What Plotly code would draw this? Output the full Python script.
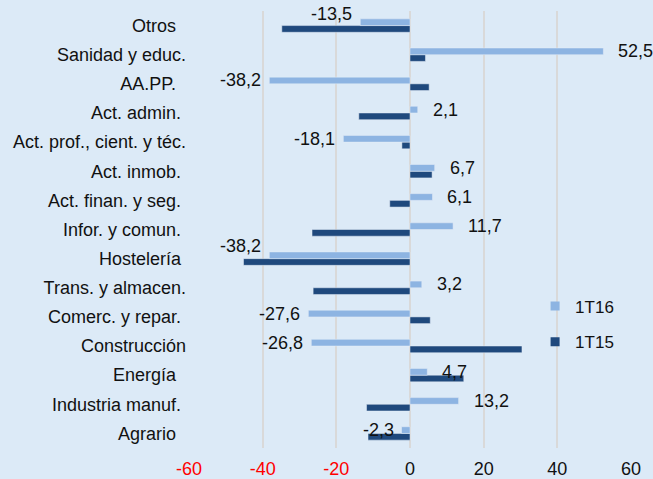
import plotly.graph_objects as go

# sectores, de arriba a abajo como en el grafico
sectores = ["Otros", "Sanidad y educ.", "AA.PP.", "Act. admin.",
            "Act. prof., cient. y téc.", "Act. inmob.", "Act. finan. y seg.",
            "Infor. y comun.", "Hostelería", "Trans. y almacen.",
            "Comerc. y repar.", "Construcción", "Energía",
            "Industria manuf.", "Agrario"]

t16 = [-13.5, 52.5, -38.2, 2.1, -18.1, 6.7, 6.1, 11.7, -38.2, 3.2,
       -27.6, -26.8, 4.7, 13.2, -2.3]
t15 = [-34.8, 4.2, 5.2, -13.9, -2.2, 6.0, -5.5, -26.6, -45.2, -26.3,
       5.5, 30.4, 14.6, -11.8, -11.4]

ticks_x = [-60, -40, -20, 0, 20, 40, 60]
ticks_x_txt = ["-60", "-40", "-20", "0", "20", "40", "60"]

# espacios al final de algunas etiquetas (como en el original)
pad = {"Otros": 2, "AA.PP.": 2, "Act. admin.": 1, "Act. inmob.": 1,
       "Act. finan. y seg.": 1, "Infor. y comun.": 1, "Hostelería": 1,
       "Comerc. y repar.": 1, "Energía": 2, "Industria manuf.": 1,
       "Agrario": 2}
etiquetas = [s + "\u00a0" * pad.get(s, 0) for s in sectores]

# etiquetas movidas a mano en el original
subir = {"Otros": 8, "Hostelería": 9}

CLARO = "#8DB4E2"
OSCURO = "#1F497D"
FONDO = "#DCEAF7"
FUENTE = "Liberation Sans, Arial, sans-serif"

fig = go.Figure()
fig.add_trace(go.Bar(y=sectores, x=t15, orientation="h", name="1T15",
                     marker_color=OSCURO, showlegend=False))
fig.add_trace(go.Bar(y=sectores, x=t16, orientation="h", name="1T16",
                     marker_color=CLARO, showlegend=False))

# entradas de leyenda con cuadrado pequeno
fig.add_trace(go.Scatter(x=[None], y=[None], mode="markers", name="1T16",
                         legendgroup="a",
                         marker=dict(symbol="square", size=9, color=CLARO)))
fig.add_trace(go.Scatter(x=[None], y=[None], mode="markers", name="1T15",
                         legendgroup="b",
                         marker=dict(symbol="square", size=9, color=OSCURO)))

for s, v in zip(sectores, t16):
    txt = f"{v:.1f}".replace(".", ",")
    fig.add_annotation(x=v, y=s, text=txt, showarrow=False,
                       xanchor="left" if v > 0 else "right",
                       xshift=13 if v > 0 else -6,
                       yshift=3.4 + subir.get(s, 0),
                       font=dict(size=18, color="#111111", family=FUENTE))

fig.update_layout(
    width=653, height=479,
    margin=dict(l=189, r=22, t=11, b=31),
    paper_bgcolor=FONDO, plot_bgcolor=FONDO,
    barmode="group", bargap=0.54, bargroupgap=0,
    font=dict(family=FUENTE, size=18, color="#111111"),
    legend=dict(x=0.783, y=0.365, xanchor="left", yanchor="top",
                bgcolor="rgba(0,0,0,0)", font=dict(size=17),
                tracegroupgap=10.5, itemwidth=30),
)
fig.update_xaxes(range=[-60, 60], tickvals=ticks_x,
                 ticktext=[f'<span style="color:#FF0000">{t}</span>' if v < 0 else t
                           for v, t in zip(ticks_x, ticks_x_txt)],
                 showgrid=True, gridcolor="#D9D9D9", gridwidth=2,
                 zeroline=False, showline=False, ticks="",
                 ticklabelstandoff=8, fixedrange=True, automargin=False)
fig.update_yaxes(categoryorder="array", categoryarray=sectores[::-1],
                 range=[-0.5, len(sectores) - 0.5],
                 tickvals=sectores, ticktext=etiquetas,
                 showgrid=False, zeroline=False, showline=False, ticks="",
                 ticklabelstandoff=2, automargin=False, fixedrange=True)

fig.write_html("out.html", config={"displayModeBar": False},
               post_script="document.body.style.margin='0px';")
